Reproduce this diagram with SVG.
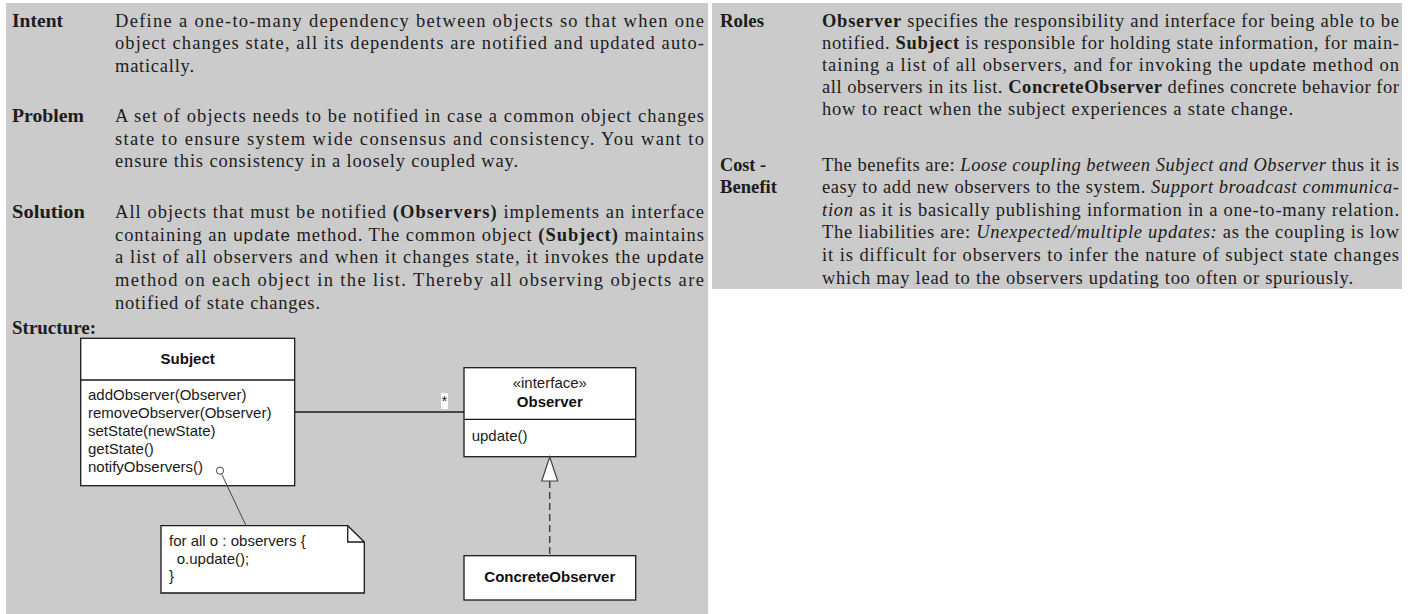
<svg xmlns="http://www.w3.org/2000/svg" width="1426" height="614" viewBox="0 0 1426 614">
<style>
.bg{fill:#cbcbcb}
.t{font-family:"Liberation Serif",serif;font-size:18.5px;fill:#1c1c1c}
.lbl{font-family:"Liberation Serif",serif;font-size:18px;font-weight:bold;fill:#1c1c1c}
.b{font-weight:bold}
.i{font-style:italic}
.s{font-family:"Liberation Sans",sans-serif;font-size:17px}
.box{fill:#ffffff;stroke:#1a1a1a;stroke-width:1.3}
.u{font-family:"Liberation Sans",sans-serif;font-size:15px;fill:#1a1a1a}
.ub{font-family:"Liberation Sans",sans-serif;font-size:15px;font-weight:bold;fill:#111}
.ln{stroke:#1a1a1a;stroke-width:1.3;fill:none}
</style>
<rect width="1426" height="614" fill="#ffffff"/>
<rect class="bg" x="6" y="3" width="702" height="611"/>
<rect class="bg" x="712" y="3" width="690" height="286"/>

<g id="intent">
<text class="lbl" x="12" y="26.5" textLength="51" lengthAdjust="spacingAndGlyphs">Intent</text>
<text class="t" x="115" y="26.5" textLength="589" lengthAdjust="spacing">Define a one-to-many dependency between objects so that when one</text>
<text class="t" x="115" y="49" textLength="589" lengthAdjust="spacing">object changes state, all its dependents are notified and updated auto-</text>
<text class="t" x="115" y="71.5" textLength="79" lengthAdjust="spacing">matically.</text>
</g>

<g id="problem">
<text class="lbl" x="12" y="122" textLength="72" lengthAdjust="spacingAndGlyphs">Problem</text>
<text class="t" x="115" y="122" textLength="589" lengthAdjust="spacing">A set of objects needs to be notified in case a common object changes</text>
<text class="t" x="115" y="144.5" textLength="589" lengthAdjust="spacing">state to ensure system wide consensus and consistency. You want to</text>
<text class="t" x="115" y="167" textLength="403" lengthAdjust="spacing">ensure this consistency in a loosely coupled way.</text>
</g>

<g id="solution">
<text class="lbl" x="12" y="218" textLength="73" lengthAdjust="spacingAndGlyphs">Solution</text>
<text class="t" x="115" y="218" textLength="589" lengthAdjust="spacing">All objects that must be notified <tspan class="b">(Observers)</tspan> implements an interface</text>
<text class="t" x="115" y="240.7" textLength="589" lengthAdjust="spacing">containing an <tspan class="s">update</tspan> method. The common object <tspan class="b">(Subject)</tspan> maintains</text>
<text class="t" x="115" y="263.3" textLength="589" lengthAdjust="spacing">a list of all observers and when it changes state, it invokes the <tspan class="s">update</tspan></text>
<text class="t" x="115" y="286" textLength="589" lengthAdjust="spacing">method on each object in the list. Thereby all observing objects are</text>
<text class="t" x="115" y="308.5" textLength="205" lengthAdjust="spacing">notified of state changes.</text>
</g>

<g id="roles">
<text class="lbl" x="720" y="27" textLength="44" lengthAdjust="spacingAndGlyphs">Roles</text>
<text class="t" x="822" y="27" textLength="577" lengthAdjust="spacing"><tspan class="b">Observer</tspan> specifies the responsibility and interface for being able to be</text>
<text class="t" x="822" y="49" textLength="577" lengthAdjust="spacing">notified. <tspan class="b">Subject</tspan> is responsible for holding state information, for main-</text>
<text class="t" x="822" y="71" textLength="577" lengthAdjust="spacing">taining a list of all observers, and for invoking the <tspan class="s">update</tspan> method on</text>
<text class="t" x="822" y="93" textLength="577" lengthAdjust="spacing">all observers in its list. <tspan class="b">ConcreteObserver</tspan> defines concrete behavior for</text>
<text class="t" x="822" y="115" textLength="471" lengthAdjust="spacing">how to react when the subject experiences a state change.</text>
</g>

<g id="cost-benefit">
<text class="lbl" x="720" y="170.5" textLength="46" lengthAdjust="spacingAndGlyphs">Cost -</text>
<text class="lbl" x="720" y="193" textLength="57" lengthAdjust="spacingAndGlyphs">Benefit</text>
<text class="t" x="822" y="170.5" textLength="577" lengthAdjust="spacing">The benefits are: <tspan class="i">Loose coupling between Subject and Observer</tspan> thus it is</text>
<text class="t" x="822" y="193" textLength="577" lengthAdjust="spacing">easy to add new observers to the system. <tspan class="i">Support broadcast communica-</tspan></text>
<text class="t" x="822" y="215.7" textLength="577" lengthAdjust="spacing"><tspan class="i">tion</tspan> as it is basically publishing information in a one-to-many relation.</text>
<text class="t" x="822" y="238.3" textLength="577" lengthAdjust="spacing">The liabilities are: <tspan class="i">Unexpected/multiple updates:</tspan> as the coupling is low</text>
<text class="t" x="822" y="261" textLength="577" lengthAdjust="spacing">it is difficult for observers to infer the nature of subject state changes</text>
<text class="t" x="822" y="283.5" textLength="531" lengthAdjust="spacing">which may lead to the observers updating too often or spuriously.</text>
</g>

<g id="structure-label">
<text class="lbl" x="12" y="334" textLength="84" lengthAdjust="spacingAndGlyphs">Structure:</text>
</g>

<g id="subject">
<rect class="box" x="80.7" y="338.3" width="214" height="147.4"/>
<line class="ln" x1="80.7" y1="380" x2="294.7" y2="380"/>
<text class="ub" x="187.7" y="363.5" text-anchor="middle">Subject</text>
<text class="u" x="88" y="400">addObserver(Observer)</text>
<text class="u" x="88" y="418">removeObserver(Observer)</text>
<text class="u" x="88" y="436">setState(newState)</text>
<text class="u" x="88" y="454">getState()</text>
<text class="u" x="88" y="472">notifyObservers()</text>
</g>

<g id="observer">
<rect class="box" x="464" y="367.7" width="171.7" height="89"/>
<line class="ln" x1="464" y1="419.3" x2="635.7" y2="419.3"/>
<text class="u" x="549.8" y="388" text-anchor="middle">«interface»</text>
<text class="ub" x="549.8" y="407" text-anchor="middle">Observer</text>
<text class="u" x="471.7" y="441">update()</text>
</g>

<g id="concrete-observer">
<rect class="box" x="464" y="555.7" width="171.7" height="44.3"/>
<text class="ub" x="549.8" y="582" text-anchor="middle">ConcreteObserver</text>
</g>

<g id="note">
<path class="box" d="M161,525.7 H347.7 L364.3,542 V593 H161 Z"/>
<path class="ln" d="M347.7,525.7 V542 H364.3"/>
<text class="u" x="169" y="546">for all o : observers {</text>
<text class="u" x="176.7" y="563.5">o.update();</text>
<text class="u" x="169" y="581">}</text>
</g>

<g id="connectors">
<line class="ln" x1="295" y1="412" x2="464" y2="412"/>
<rect x="441" y="393" width="7" height="16" fill="#ffffff"/>
<text class="u" x="444.5" y="406" text-anchor="middle">*</text>
<line x1="549.7" y1="481" x2="549.7" y2="555.7" stroke="#444" stroke-width="1.5" stroke-dasharray="7,4"/>
<polygon points="549.7,457 541.7,481 557.7,481" fill="#ffffff" stroke="#444" stroke-width="1.2"/>
<circle cx="220" cy="470.7" r="3.6" fill="#ffffff" stroke="#444" stroke-width="1"/>
<line x1="221.8" y1="474.3" x2="246" y2="525.7" stroke="#444" stroke-width="1"/>
</g>
</svg>
